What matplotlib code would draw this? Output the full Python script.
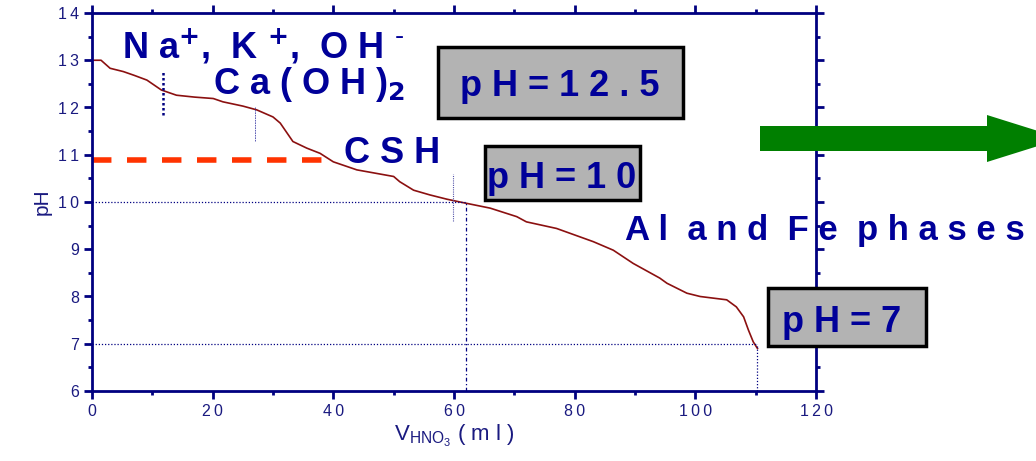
import numpy as np
import matplotlib.pyplot as plt
from matplotlib.ticker import MultipleLocator, FuncFormatter
from matplotlib.patches import Rectangle, Polygon

plt.rcParams['font.family'] = ['Liberation Sans', 'DejaVu Sans']

# titration curve: volume of HNO3 (ml) vs pH
vol = [0, 1.5, 3.0, 5.2, 7.0, 9.1, 11.5, 14.0, 17.0, 20.1, 21.7, 25.0, 27.3, 30.0,
       31.2, 33.3, 35.6, 37.8, 40.0, 43.9, 50.0, 51.0, 53.3, 56.0, 58.8, 61.0,
       66.0, 70.4, 72.0, 77.0, 83.1, 86.4, 89.7, 94.1, 95.3, 98.6, 100.8, 105.2,
       106.8, 108.0, 108.8, 109.6, 110.3]
ph = [13.0, 13.0, 12.83, 12.76, 12.68, 12.58, 12.37, 12.26, 12.22, 12.19, 12.12,
      12.03, 11.95, 11.80, 11.67, 11.28, 11.14, 11.03, 10.85, 10.68, 10.54, 10.43,
      10.25, 10.15, 10.06, 10.0, 9.87, 9.69, 9.58, 9.44, 9.16, 8.98, 8.70, 8.39,
      8.28, 8.07, 8.0, 7.93, 7.78, 7.57, 7.29, 7.04, 6.9]

# equivalence markers
eq10_x = 62.0
eq7_x = 110.3
csh_ph = 10.88
csh_end = 38.6

navy = '#000080'
txt_blue = '#000099'
W, H = 1036, 461

fig = plt.figure(figsize=(10.36, 4.61), dpi=100)
ax = fig.add_axes([92 / W, 1 - 391 / H, 724 / W, 378 / H])

ax.plot(vol, ph, color='#8b1010', lw=1.2)

# dotted guide lines
ax.plot([0, eq10_x], [10, 10], color=navy, lw=0.9, ls=(0, (1, 1.5)))
ax.plot([eq10_x, eq10_x], [6, 10], color=navy, lw=0.9, ls=(0, (3, 2, 1, 2)))
ax.plot([0, eq7_x], [7, 7], color=navy, lw=0.9, ls=(0, (1, 1.5)))
ax.plot([eq7_x, eq7_x], [6, 7], color=navy, lw=0.9, ls=(0, (1, 1.5)))
ax.plot([11.8, 11.8], [11.85, 12.8], color=navy, lw=1.8, ls=(0, (1, 1)))
ax.plot([27.0, 27.0], [11.3, 12.0], color='#4444aa', lw=0.6, ls=(0, (2, 1)))
ax.plot([59.8, 59.8], [9.6, 10.6], color='#5555aa', lw=0.8, ls=(0, (1, 1)))

# CSH level
ax.plot([0, csh_end], [csh_ph, csh_ph], color='#ff3300', lw=4, ls=(0, (3.5, 2.8)),
        solid_capstyle='butt')

ax.set_xlim(0, 120)
ax.set_ylim(6, 14)
ax.xaxis.set_major_locator(MultipleLocator(20))
ax.xaxis.set_minor_locator(MultipleLocator(10))
ax.yaxis.set_major_locator(MultipleLocator(1))
ax.yaxis.set_minor_locator(MultipleLocator(0.5))
spaced = FuncFormatter(lambda v, p: '\u2009'.join(str(int(round(v)))))
ax.xaxis.set_major_formatter(spaced)
ax.yaxis.set_major_formatter(spaced)
for s in ax.spines.values():
    s.set_color(navy)
    s.set_linewidth(2)
ax.tick_params(which='major', direction='out', length=6, width=2, color=navy,
               labelcolor='#1a1a80', labelsize=11.5)
ax.tick_params(which='minor', direction='out', length=3, width=2, color=navy)
ax.tick_params(which='both', top=True, right=True)
ax.set_xlabel('V$_{\\mathregular{HNO_3}}$ ( m l )', color='#1a1a80', fontsize=16,
              labelpad=3)
ax.set_ylabel('pH', color='#1a1a80', fontsize=15, labelpad=4)


def px_text(x, y, s, size=26, **kw):
    # place text by pixel position (origin top-left), baseline aligned
    fig.text(x / W, 1 - y / H, s, color=txt_blue, fontweight='bold', fontsize=size,
             va='baseline', **kw)


def px_box(x0, y0, x1, y1):
    fig.patches.append(Rectangle((x0 / W, 1 - y1 / H), (x1 - x0) / W, (y1 - y0) / H,
                                 fc='#b3b3b3', ec='black', lw=2.5,
                                 transform=fig.transFigure))


# species labels
px_text(122, 58, 'N a$^{\\mathbf{+}}$,  K $^{\\mathbf{+}}$,  O H $^{\\text{-}}$')
px_text(213, 94, 'C a ( O H )$_{\\mathbf{2}}$')
px_text(344, 163, 'C S H')
px_text(625, 240, 'A l  a n d  F e  p h a s e s', size=25)

# pH boxes
px_box(438, 47, 683, 118)
px_text(560, 96, 'p H = 1 2 . 5', ha='center')
px_box(485, 146, 640, 200)
px_text(562, 188, 'p H = 1 0', ha='center')
px_box(768, 288, 926, 346)
px_text(842, 332, 'p H = 7', ha='center')

# arrow to the right
arrow_px = [(760, 126), (987, 126), (987, 115), (1062, 138.5), (987, 162),
            (987, 151), (760, 151)]
fig.patches.append(Polygon([(x / W, 1 - y / H) for x, y in arrow_px], closed=True,
                           fc='#007f00', ec='none', transform=fig.transFigure))

fig.savefig('out.png', dpi=100)
